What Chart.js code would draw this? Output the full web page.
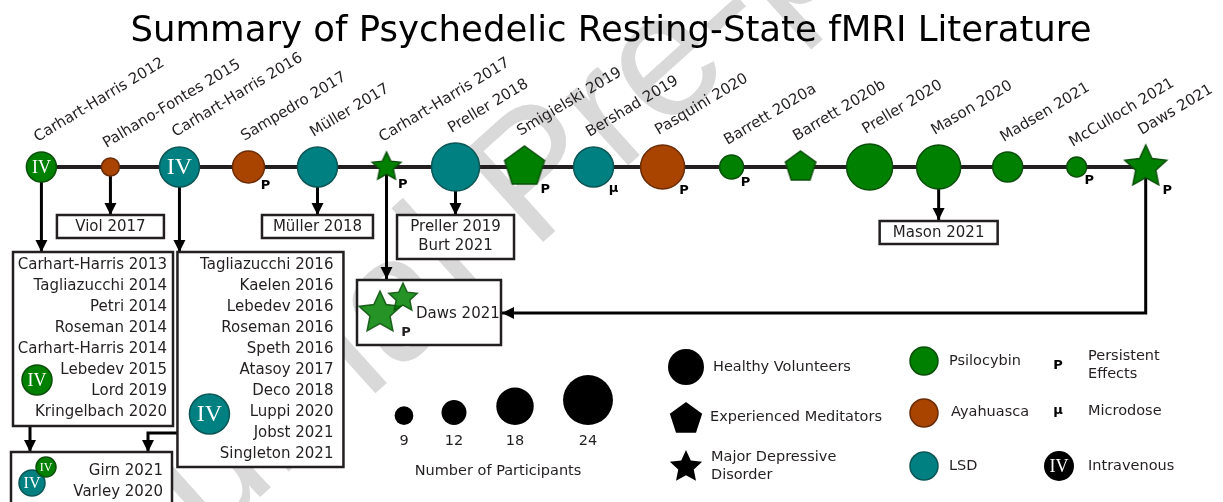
<!DOCTYPE html>
<html>
<head>
<meta charset="utf-8">
<script src="https://cdn.jsdelivr.net/npm/chart.js@4.4.1/dist/chart.umd.min.js"></script>
<style>
    html, body { margin: 0; padding: 0; background: #fff; }
    #wrap { width: 1223px; height: 502px; }
</style>
</head>
<body>
<div id="wrap"><canvas id="chartTimeline" width="1223" height="502"></canvas></div>
<script>
// Studies on the main timeline (left to right)
const studies = [
    'Carhart-Harris 2012', 'Palhano-Fontes 2015', 'Carhart-Harris 2016', 'Sampedro 2017',
    'Müller 2017', 'Carhart-Harris 2017', 'Preller 2018', 'Smigielski 2019', 'Bershad 2019',
    'Pasquini 2020', 'Barrett 2020a', 'Barrett 2020b', 'Preller 2020', 'Mason 2020',
    'Madsen 2021', 'McCulloch 2021', 'Daws 2021'
];
const participants = [15, 9, 20, 16, 20, 15, 24, 21, 20, 22, 12, 16, 23, 22, 15, 10, 22];
const drugs = [
    'Psilocybin', 'Ayahuasca', 'LSD', 'Ayahuasca', 'LSD', 'Psilocybin', 'LSD', 'Psilocybin', 'LSD',
    'Ayahuasca', 'Psilocybin', 'Psilocybin', 'Psilocybin', 'Psilocybin', 'Psilocybin', 'Psilocybin', 'Psilocybin'
];
// HV = healthy volunteers, EM = experienced meditators, MDD = major depressive disorder
const cohorts = ['HV', 'HV', 'HV', 'HV', 'HV', 'MDD', 'HV', 'EM', 'HV', 'HV', 'HV', 'EM', 'HV', 'HV', 'HV', 'HV', 'MDD'];
const routes = ['IV', '', 'IV', '', '', '', '', '', '', '', '', '', '', '', '', '', ''];
const effects = ['', '', '', 'P', '', 'P', '', 'P', 'μ', 'P', 'P', '', '', '', '', 'P', 'P'];

// Re-analyses of the same datasets
const followViol = ['Viol 2017'];
const followMuller = ['Müller 2018'];
const followPreller = ['Preller 2019', 'Burt 2021'];
const followMason = ['Mason 2021'];
const followPsilo2012 = [
    'Carhart-Harris 2013', 'Tagliazucchi 2014', 'Petri 2014', 'Roseman 2014',
    'Carhart-Harris 2014', 'Lebedev 2015', 'Lord 2019', 'Kringelbach 2020'
];
const followLsd2016 = [
    'Tagliazucchi 2016', 'Kaelen 2016', 'Lebedev 2016', 'Roseman 2016', 'Speth 2016',
    'Atasoy 2017', 'Deco 2018', 'Luppi 2020', 'Jobst 2021', 'Singleton 2021'
];
const followCombined = ['Girn 2021', 'Varley 2020'];
const followDaws = ['Daws 2021'];

const sizeLegend = [9, 12, 18, 24];

const FILL = { Psilocybin: '#008000', Ayahuasca: '#a84300', LSD: '#008080' };
const EDGE = { Psilocybin: '#0b4f0b', Ayahuasca: '#6a2c06', LSD: '#0d5656' };
const INK = '#231f20';
const SANS = '"DejaVu Sans", Verdana, sans-serif';
const SERIF = '"Liberation Serif", "DejaVu Serif", serif';

// ---------- shape helpers ----------
function pathShape(ctx, shape, x, y, R) {
    ctx.beginPath();
    if (shape === 'circle') {
        ctx.arc(x, y, R, 0, Math.PI * 2);
    } else if (shape === 'star') {
        for (let i = 0; i < 10; i++) {
            const a = -Math.PI / 2 + i * Math.PI / 5;
            const rr = i % 2 ? R * 0.48 : R;
            ctx.lineTo(x + rr * Math.cos(a), y + rr * Math.sin(a));
        }
    } else {
        for (let i = 0; i < 5; i++) {
            const a = -Math.PI / 2 + i * 2 * Math.PI / 5;
            ctx.lineTo(x + R * Math.cos(a), y + R * Math.sin(a));
        }
    }
    ctx.closePath();
}

function drawShape(ctx, shape, x, y, R, fill, edge) {
    pathShape(ctx, shape, x, y, R);
    ctx.fillStyle = fill;
    ctx.fill();
    if (edge) {
        ctx.lineWidth = 1.5;
        ctx.strokeStyle = edge;
        ctx.stroke();
    }
}

function shapeOf(cohort) {
    return cohort === 'MDD' ? 'star' : cohort === 'EM' ? 'pentagon' : 'circle';
}

// canvas sprite for the non-circle markers
function sprite(shape, R, fill, edge) {
    const c = document.createElement('canvas');
    c.width = c.height = Math.ceil(R * 2 + 4);
    drawShape(c.getContext('2d'), shape, c.width / 2, c.height / 2, R, fill, edge);
    return c;
}

function arrowHead(ctx, x, y, dir) {
    const s = 6, l = 12;
    ctx.beginPath();
    if (dir === 'down') {
        ctx.moveTo(x, y); ctx.lineTo(x - s, y - l); ctx.lineTo(x + s, y - l);
    } else {
        ctx.moveTo(x, y); ctx.lineTo(x + l, y - s); ctx.lineTo(x + l, y + s);
    }
    ctx.closePath();
    ctx.fill();
}

function polyArrow(ctx, pts, dir) {
    ctx.beginPath();
    pts.forEach((p, i) => i ? ctx.lineTo(p[0], p[1]) : ctx.moveTo(p[0], p[1]));
    ctx.stroke();
    const last = pts[pts.length - 1];
    arrowHead(ctx, last[0], last[1], dir);
}

function box(ctx, x, y, w, h) {
    ctx.lineWidth = 2.5;
    ctx.strokeStyle = INK;
    ctx.fillStyle = '#fff';
    ctx.fillRect(x, y, w, h);
    ctx.strokeRect(x, y, w, h);
}

function ivText(ctx, x, y, R) {
    ctx.fillStyle = '#fff';
    ctx.font = `${Math.round(R * 1.2)}px ${SERIF}`;
    ctx.textAlign = 'center';
    ctx.textBaseline = 'middle';
    ctx.fillText('IV', x, y + 1);
}

function ivBadge(ctx, x, y, R, fill, edge) {
    drawShape(ctx, 'circle', x, y, R, fill, edge);
    ivText(ctx, x, y, R);
}

function textLines(ctx, lines, x, y0, step, align) {
    ctx.fillStyle = INK;
    ctx.font = `15px ${SANS}`;
    ctx.textAlign = align;
    ctx.textBaseline = 'middle';
    lines.forEach((t, i) => ctx.fillText(t, x, y0 + i * step));
}

// centred single/multi-line box hanging under a marker
function hangBox(ctx, lines, cx, top, w) {
    const h = lines.length > 1 ? 44 : 23;
    box(ctx, cx - w / 2, top, w, h);
    textLines(ctx, lines, cx, top + 12.5, 19, 'center');
}

// ---------- drawing plugin ----------
const diagramPlugin = {
    id: 'diagram',
    beforeDatasetsDraw(chart) {
        const ctx = chart.ctx;
        const pts = chart.getDatasetMeta(0).data;
        const cy = pts[0].y;
        ctx.save();

        // watermark
        ctx.save();
        ctx.translate(540, 180);
        ctx.rotate(-42 * Math.PI / 180);
        ctx.fillStyle = '#d9d9d9';
        ctx.font = '175px "Liberation Sans", Arial, sans-serif';
        ctx.textAlign = 'center';
        ctx.textBaseline = 'middle';
        ctx.fillText('Journal Pre-proof', 0, 0);
        ctx.restore();

        // title
        ctx.fillStyle = '#000';
        ctx.font = `35.5px ${SANS}`;
        ctx.textAlign = 'center';
        ctx.textBaseline = 'alphabetic';
        ctx.fillText('Summary of Psychedelic Resting-State fMRI Literature', 611, 41);

        // timeline
        ctx.strokeStyle = INK;
        ctx.lineWidth = 4;
        ctx.beginPath();
        ctx.moveTo(pts[0].x - participants[0], cy);
        ctx.lineTo(pts[pts.length - 1].x, cy);
        ctx.stroke();

        const b2 = pts[2].x - 2;   // left edge of the LSD 2016 box

        // connectors
        ctx.lineWidth = 3;
        ctx.strokeStyle = '#000';
        ctx.fillStyle = '#000';
        polyArrow(ctx, [[pts[0].x, cy], [pts[0].x, 252]], 'down');
        polyArrow(ctx, [[pts[1].x, cy], [pts[1].x, 215]], 'down');
        polyArrow(ctx, [[pts[2].x, cy], [pts[2].x, 252]], 'down');
        polyArrow(ctx, [[pts[4].x, cy], [pts[4].x, 215]], 'down');
        polyArrow(ctx, [[pts[5].x, cy], [pts[5].x, 279]], 'down');
        polyArrow(ctx, [[pts[6].x, cy], [pts[6].x, 215]], 'down');
        polyArrow(ctx, [[pts[13].x, cy], [pts[13].x, 220]], 'down');
        polyArrow(ctx, [[pts[16].x, cy], [pts[16].x, 313], [502, 313]], 'left');
        polyArrow(ctx, [[30, 426], [30, 452]], 'down');
        polyArrow(ctx, [[b2, 433], [148, 433], [148, 452]], 'down');

        // follow-up boxes
        hangBox(ctx, followViol, pts[1].x, 215, 107);
        hangBox(ctx, followMuller, pts[4].x, 215, 111);
        hangBox(ctx, followPreller, pts[6].x, 215, 117);
        hangBox(ctx, followMason, pts[13].x, 221, 118);

        box(ctx, 13, 252, 160, 174);
        textLines(ctx, followPsilo2012, 167, 265, 21, 'right');
        ivBadge(ctx, 37, 380, 15, FILL.Psilocybin, EDGE.Psilocybin);

        box(ctx, b2, 252, 166, 215);
        textLines(ctx, followLsd2016, b2 + 156, 265, 21, 'right');
        ivBadge(ctx, b2 + 32, 414, 20, FILL.LSD, EDGE.LSD);

        box(ctx, 11, 452, 161, 70);
        textLines(ctx, followCombined, 163, 471, 21, 'right');
        ivBadge(ctx, 32, 483, 13, FILL.LSD, EDGE.LSD);
        ivBadge(ctx, 46, 467, 10, FILL.Psilocybin, EDGE.Psilocybin);

        box(ctx, 357, 280, 144, 65);
        ctx.save();
        ctx.globalAlpha = 0.85;
        drawShape(ctx, 'star', 380, 313, 22, FILL.Psilocybin, EDGE.Psilocybin);
        drawShape(ctx, 'star', 403, 298, 15, FILL.Psilocybin, EDGE.Psilocybin);
        ctx.restore();
        ctx.fillStyle = INK;
        ctx.font = `bold 13px ${SANS}`;
        ctx.textAlign = 'center';
        ctx.textBaseline = 'middle';
        ctx.fillText('P', 406, 333);
        textLines(ctx, followDaws, 416, 314, 19, 'left');

        // participant size legend
        const sizeX = [404, 454, 515, 588];
        sizeLegend.forEach((n, i) => {
            drawShape(ctx, 'circle', sizeX[i], 425 - n * 1.04, n * 1.04, '#000');
            ctx.fillStyle = INK;
            ctx.font = `14.5px ${SANS}`;
            ctx.textAlign = 'center';
            ctx.textBaseline = 'middle';
            ctx.fillText(String(n), sizeX[i], 441);
        });
        ctx.fillText('Number of Participants', 498, 471);

        // cohort / drug / note legend
        const legendText = (t, x, y) => {
            ctx.fillStyle = INK;
            ctx.font = `14.5px ${SANS}`;
            ctx.textAlign = 'left';
            ctx.textBaseline = 'middle';
            ctx.fillText(t, x, y);
        };
        drawShape(ctx, 'circle', 686, 367, 18, '#000');
        legendText('Healthy Volunteers', 713, 367);
        drawShape(ctx, 'pentagon', 686, 419, 17, '#000');
        legendText('Experienced Meditators', 710, 417);
        drawShape(ctx, 'star', 686, 467, 17, '#000');
        legendText('Major Depressive', 711, 457);
        legendText('Disorder', 711, 475);

        drawShape(ctx, 'circle', 924, 361, 14, FILL.Psilocybin, EDGE.Psilocybin);
        legendText('Psilocybin', 949, 361);
        drawShape(ctx, 'circle', 924, 413, 14, FILL.Ayahuasca, EDGE.Ayahuasca);
        legendText('Ayahuasca', 951, 412);
        drawShape(ctx, 'circle', 924, 466, 14, FILL.LSD, EDGE.LSD);
        legendText('LSD', 949, 466);

        ctx.fillStyle = '#000';
        ctx.font = `bold 13px ${SANS}`;
        ctx.textAlign = 'center';
        ctx.fillText('P', 1058, 366);
        ctx.fillText('μ', 1058, 411);
        legendText('Persistent', 1088, 356);
        legendText('Effects', 1088, 374);
        legendText('Microdose', 1088, 411);
        ivBadge(ctx, 1059, 466, 15, '#000');
        legendText('Intravenous', 1088, 466);

        ctx.restore();
    },
    afterDatasetsDraw(chart) {
        const ctx = chart.ctx;
        const pts = chart.getDatasetMeta(0).data;
        ctx.save();
        pts.forEach((p, i) => {
            const r = participants[i];
            // intravenous badge text
            if (routes[i]) ivText(ctx, p.x, p.y, r);
            // persistent effects / microdose marks
            if (effects[i]) {
                ctx.fillStyle = '#000';
                ctx.font = `bold 13px ${SANS}`;
                ctx.textAlign = 'center';
                ctx.textBaseline = 'middle';
                ctx.fillText(effects[i], p.x + r * 0.75 + 5, p.y + r * 0.85 + 5);
            }
            // study names, rotated
            ctx.save();
            ctx.translate(p.x - 4, p.y - r - 10);
            ctx.rotate(-31 * Math.PI / 180);
            ctx.fillStyle = INK;
            ctx.font = `15px ${SANS}`;
            ctx.textAlign = 'left';
            ctx.textBaseline = 'alphabetic';
            ctx.fillText(studies[i], 0, 0);
            ctx.restore();
        });
        ctx.restore();
    }
};

const ctx = document.getElementById('chartTimeline').getContext('2d');

window.myChart = new Chart(ctx, {
    type: 'bubble',
    data: {
        datasets: [{
            label: 'Studies',
            data: studies.map((s, i) => ({ x: i, y: 0, r: participants[i] })),
            backgroundColor: c => FILL[drugs[c.dataIndex]],
            borderColor: c => EDGE[drugs[c.dataIndex]],
            borderWidth: 1.5,
            pointStyle: c => {
                const i = c.dataIndex;
                if (i === undefined) return 'circle';
                const shape = shapeOf(cohorts[i]);
                if (shape === 'circle') return 'circle';
                return sprite(shape, participants[i], FILL[drugs[i]], EDGE[drugs[i]]);
            },
            clip: false
        }]
    },
    options: {
        responsive: false,
        animation: false,
        events: [],
        layout: { padding: 0, autoPadding: false },
        plugins: {
            legend: { display: false },
            tooltip: { enabled: false }
        },
        scales: {
            x: { type: 'linear', display: false, min: -0.6, max: 17.12 },
            y: { type: 'linear', display: false, min: -335, max: 167 }
        }
    },
    plugins: [diagramPlugin]
});
</script>
</body>
</html>
